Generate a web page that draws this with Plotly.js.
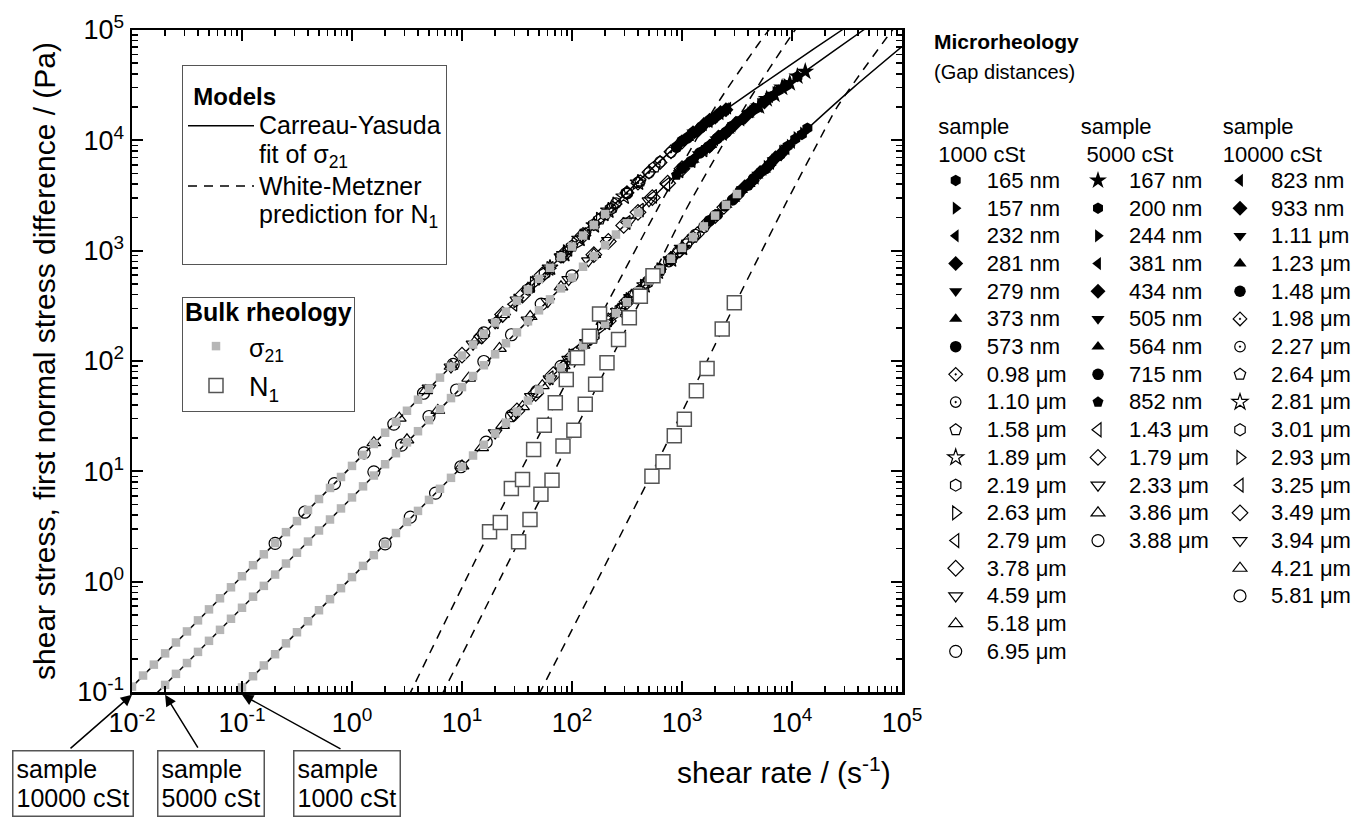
<!DOCTYPE html>
<html><head><meta charset="utf-8">
<script src="https://cdn.plot.ly/plotly-3.0.1.min.js"></script>
<style>html,body{margin:0;padding:0;background:#fff}</style>
</head><body>
<div id="chart" style="width:1368px;height:817px"></div>
<script>
// ---------------- DATA ----------------
// Bulk rheology: shear stress sigma21 (Pa) vs shear rate (1/s)
const rate10000 = [0.0100,0.0126,0.0158,0.0200,0.0251,0.0316,0.0398,0.0501,0.0631,0.0794,
  0.100,0.126,0.158,0.200,0.251,0.316,0.398,0.501,0.631,0.794,
  1.00,1.26,1.58,2.00,2.51,3.16,3.98,5.01,6.31,7.94,
  10.0,12.6,15.8,20.0,25.1,31.6,39.8,50.1,63.1,79.4,
  100,126,158,200];
const sigma10000 = [0.112,0.141,0.177,0.224,0.281,0.354,0.446,0.561,0.707,0.889,
  1.12,1.41,1.77,2.24,2.81,3.54,4.46,5.61,7.07,8.89,
  11.2,14.1,17.7,22.4,28.1,35.4,44.6,56.1,70.7,88.9,
  112,141,177,223,280,352,443,556,699,877,
  1090,1370,1710,2150];
const rate5000 = [0.0200,0.0251,0.0316,0.0398,0.0501,0.0631,0.0794,
  0.100,0.126,0.158,0.200,0.251,0.316,0.398,0.501,0.631,0.794,
  1.00,1.26,1.58,2.00,2.51,3.16,3.98,5.01,6.31,7.94,
  10.0,12.6,15.8,20.0,25.1,31.6,39.8,50.1,63.1,79.4,
  100,126,158,200,251,316,398];
const sigma5000 = [0.116,0.146,0.183,0.231,0.291,0.366,0.461,
  0.580,0.731,0.916,1.16,1.46,1.83,2.31,2.91,3.66,4.61,
  5.80,7.31,9.16,11.6,14.6,18.3,23.1,29.1,36.6,46.1,
  58.0,73.1,91.5,115,145,182,229,288,362,455,
  570,715,895,1120,1400,1770,2210];
const rate1000 = [0.100,0.126,0.158,0.200,0.251,0.316,0.398,0.501,0.631,0.794,
  1.00,1.26,1.58,2.00,2.51,3.16,3.98,5.01,6.31,7.94,
  10.0,12.6,15.8,20.0,25.1,31.6,39.8,50.1,63.1,79.4,
  100,126,158,200,251,316,398,501,631,794,
  1000,1260,1580,2000,2510,3160];
const sigma1000 = [0.110,0.139,0.174,0.220,0.276,0.348,0.438,0.551,0.694,0.873,
  1.10,1.39,1.74,2.20,2.76,3.48,4.38,5.51,6.94,8.73,
  11.0,13.9,17.4,22.0,27.6,34.8,43.8,55.1,69.4,87.3,
  110,138,173,217,272,341,428,537,674,845,
  1060,1330,1660,2080,2600,3260];

// Bulk rheology: first normal stress difference N1 (Pa)
const n1Rate10000 = [17.8,22.3,28.1,35.5,44.8,56.0,70.5,88.7,112,144,178];
const n1Value10000 = [2.83,3.44,7.00,8.44,15.8,26.2,41.8,68.0,107,168,266];
const n1Rate5000 = [32.7,41.5,52.2,65.8,82.8,104,132,164,208,265,332,418,545];
const n1Value5000 = [2.30,3.66,6.21,8.32,17.0,23.6,40.6,61.4,96.4,157,247,387,592];
const n1Rate1000 = [533,671,851,1050,1350,1690,2320,2990];
const n1Value1000 = [9.04,12.2,21.0,29.7,53.7,85.7,195,337];

// Carreau-Yasuda fit of sigma21
const cyRate10000 = [0.008,1,31.6,100,316,1000,2510,8910,28500,100000];
const cyStress10000 = [0.0891,11.2,355,1100,3390,9770,19100,45700,100000,229000];
const cyRate5000 = [0.0158,1,100,316,1000,2000,3980,12600,44700,100000];
const cyStress5000 = [0.0918,5.8,580,1780,5500,9890,17300,40900,100000,174000];
const cyRate1000 = [0.0794,1,100,1000,3160,12600,36300,100000];
const cyStress1000 = [0.0873,1.1,110,1050,3200,11700,30200,70800];

// White-Metzner prediction for N1
const wmRate10000 = [2.82,17.8,224,631,2000,5010,7080];
const wmN1_10000 = [0.0676,2.82,380,2630,20000,75900,120000];
const wmRate5000 = [5.62,31.6,562,1070,3980,10000,12600];
const wmN1_5000 = [0.0692,2.14,631,2290,22400,91200,126000];
const wmRate1000 = [50.1,501,3160,8910,17000,25700,72400,100000];
const wmN1_1000 = [0.0955,8.51,355,2750,9330,20000,85100,129000];

// Microrheology, sample 1000 cSt (gap distances)
const gaps1000 = ['165 nm','157 nm','232 nm','281 nm','279 nm','373 nm','573 nm','0.98 μm','1.10 μm',
  '1.58 μm','1.89 μm','2.19 μm','2.63 μm','2.79 μm','3.78 μm','4.59 μm','5.18 μm','6.95 μm'];
const microRate1000 = [
  [5620,6610,7760,9120,10700,12300,13800],
  [5010,5890,6920,8130,9550,11000,12600],
  [3980,4680,5500,6460,7590,8910,10000],
  [3160,3720,4370,5130,6030,7080,7940],
  [3550,4170,4900,5750,6760,7940,8910],
  [2510,2950,3470,4070,4790,5620,6310],
  [1780,2090,2450,2880,3390,3980,4470],
  [794,955,1150,1380,1660,2000,2400],
  [631,759,912,1100,1320,1580,2000],
  [316,398,501,631,794,1000,1260],
  [200,263,347,457,603,794,1000],
  [158,209,275,363,479,631,794],
  [100,135,182,245,331,447,631],
  [63.1,85.1,115,158,214,288,398],
  [31.6,46.8,67.6,100,148,214,316],
  [20.0,29.5,42.7,63.1,93.3,135,200],
  [10.0,15.1,23.4,35.5,53.7,83.2,126],
  [2.00,3.39,5.75,9.77,16.6,28.2,47.9,79.4]];
const microStress1000 = [
  [5400,6480,7350,8850,10300,11300,12900],
  [4850,5800,6600,7950,9000,10600,11600],
  [4050,4550,5450,6200,7400,8400,9600],
  [3150,3800,4300,5100,5800,6950,7550],
  [3620,4100,4880,5520,6620,7550,8600],
  [2600,2950,3540,4000,4780,5420,6200],
  [1870,2120,2540,2880,3460,3930,4480],
  [850,995,1220,1425,1745,2040,2470],
  [675,795,970,1145,1395,1630,2080],
  [345,424,541,664,845,1042,1325],
  [221,282,378,485,646,831,1058],
  [170,230,295,396,508,675,832],
  [112,146,200,263,361,476,674],
  [70.5,92.5,127.5,170,236,310,432],
  [35.3,51,75.2,109,163,231,345],
  [22.3,32.1,47.6,68.8,103.5,147,220],
  [11.2,16.4,26.1,38.6,59.8,90.7,139],
  [2.2,3.85,6.35,11.0,18.4,31.9,53,89.5]];

// Microrheology, sample 5000 cSt
const gaps5000 = ['167 nm','200 nm','244 nm','381 nm','434 nm','505 nm','564 nm','715 nm','852 nm',
  '1.43 μm','1.79 μm','2.33 μm','3.86 μm','3.88 μm'];
const microRate5000 = [
  [5010,5890,6920,8130,9550,11200,13200],
  [3980,4680,5500,6460,7590,8910,11200],
  [3160,3720,4370,5130,6030,7080,8910],
  [2000,2400,2880,3470,4170,5010,6310],
  [1780,2140,2570,3090,3720,4470,5620],
  [1410,1700,2040,2450,2950,3550,4470],
  [1260,1510,1820,2190,2630,3160,3980],
  [1000,1200,1450,1740,2090,2510,2820],
  [891,1070,1290,1550,1860,2240,2510],
  [316,417,550,724,955,1230,1580],
  [158,214,295,398,537,741,1000],
  [39.8,60.3,93.3,141,214,331,501],
  [3.16,6.03,11.5,21.9,41.7,79.4,158],
  [1.58,2.82,5.01,8.91,15.8,28.2,52.5,100]];
const microStress5000 = [
  [20300,23700,26000,30100,33000,38000,42000],
  [17500,19300,22400,24800,28400,31300,37800],
  [14200,16600,18400,21200,23500,27100,31900],
  [10100,11300,13500,15300,18100,20300,24900],
  [8850,10700,12000,14300,16200,19100,22200],
  [7500,8550,10200,11600,13800,15600,19000],
  [6650,7950,9050,10850,12250,14600,17100],
  [5600,6380,7680,8720,10400,11800,13250],
  [4850,5900,6800,8100,9220,11000,11800],
  [1800,2330,3100,4000,5300,6560,8200],
  [920,1212,1695,2225,3030,4085,5540],
  [235,346,547,808,1237,1855,2830],
  [19.3,35.7,69.8,130,253,470,925],
  [9.9,17.3,31.4,54.6,99,173,328,592]];

// Microrheology, sample 10000 cSt
const gaps10000 = ['823 nm','933 nm','1.11 μm','1.23 μm','1.48 μm','1.98 μm','2.27 μm','2.64 μm',
  '2.81 μm','3.01 μm','2.93 μm','3.25 μm','3.49 μm','3.94 μm','4.21 μm','5.81 μm'];
const microRate10000 = [
  [1580,1780,2000,2240,2510,2630],
  [1410,1580,1780,2000,2240,2510],
  [1260,1410,1580,1780,2000,2290],
  [1120,1260,1410,1660,1910,2240],
  [891,1000,1120,1260,1480,1780],
  [316,398,501,631,794,1000,1260],
  [200,251,316,398,501,631,794],
  [100,132,178,234,316,417,562],
  [63.1,85.1,117,158,214,295,398],
  [39.8,56.2,79.4,112,158,224,316],
  [31.6,44.7,63.1,89.1,126,178,251],
  [20.0,29.5,42.7,63.1,93.3,135,200],
  [10.0,15.1,23.4,35.5,53.7,83.2,126],
  [5.01,7.94,12.6,20.0,31.6,50.1,79.4],
  [1.58,2.69,4.68,7.94,13.5,23.4,39.8],
  [0.200,0.372,0.692,1.29,2.40,4.47,8.32,15.8]];
const microStress10000 = [
  [13900,14800,16600,17500,19300,19600],
  [12400,13900,15200,16200,17900,18900],
  [11800,12500,13600,15100,16300,18200],
  [10500,11750,12750,14200,16000,17600],
  [8650,9800,10500,11700,13000,15100],
  [3350,4090,5150,6290,7880,9650,11680],
  [2120,2700,3290,4160,5070,6380,7780],
  [1100,1420,1930,2480,3350,4280,5730],
  [700,928,1280,1695,2305,3090,4140],
  [446,619,880,1210,1720,2375,3340],
  [351,504,692,982,1358,1925,2655],
  [226,327,482,692,1028,1452,2155],
  [113,168,264,395,604,910,1375],
  [56.8,88.2,142,222,357,552,880],
  [18.2,30.3,53.9,89.6,155,264,457],
  [2.22,4.26,7.75,14.7,26.8,51,93.2,180]];

const xTickVals = [0.01,0.1,1,10,100,1000,10000,100000];
const xTickExp = ['-2','-1','0','1','2','3','4','5'];
const yTickVals = [0.1,1,10,100,1000,10000,100000];
const yTickExp = ['-1','0','1','2','3','4','5'];

// ---------------- STYLE ----------------
const FONT = 'Liberation Sans, Arial, Helvetica, sans-serif';
const sz = (t, s) => '<span style="font-size:' + s + 'px">' + t + '</span>';
const sup = (t, s, shift) => '<span style="font-size:' + s + 'px;baseline-shift:' + shift + 'px">' + t + '</span>';
const sub = (t, s, shift) => '<span style="font-size:' + s + 'px;baseline-shift:-' + shift + 'px">' + t + '</span>';
const NB = '\u00a0';

const sym1000 = ['hexagon','triangle-right','triangle-left','diamond','triangle-down','triangle-up','circle',
  'diamond-open-dot','circle-open-dot','pentagon-open','star-open','hexagon-open','triangle-right-open',
  'triangle-left-open','diamond-open','triangle-down-open','triangle-up-open','circle-open'];
const sym5000 = ['star','hexagon','triangle-right','triangle-left','diamond','triangle-down','triangle-up',
  'circle','pentagon','triangle-left-open','diamond-open','triangle-down-open','triangle-up-open','circle-open'];
const sym10000 = ['triangle-left','diamond','triangle-down','triangle-up','circle','diamond-open-dot',
  'circle-open-dot','pentagon-open','star-open','hexagon-open','triangle-right-open','triangle-left-open',
  'diamond-open','triangle-down-open','triangle-up-open','circle-open'];

function markerFor(symbol) {
  const open = symbol.indexOf('-open') >= 0;
  const dot = symbol.indexOf('-dot') >= 0;
  let size = open ? 12 : 11.5;
  if (dot) size = 10.5;
  if (symbol === 'star') size = 13.5;
  return {symbol: symbol, size: size, color: 'black', line: {color: 'black', width: open ? 1.2 : 0}};
}

const traces = [];
// Carreau-Yasuda curves
[[cyRate10000, cyStress10000], [cyRate5000, cyStress5000], [cyRate1000, cyStress1000]].forEach((d, i) => {
  traces.push({x: d[0], y: d[1], type: 'scatter', mode: 'lines',
    line: {color: 'black', width: 1.5, shape: 'spline', smoothing: 0.6},
    name: sz('Carreau-Yasuda', 25) + '<br>' + sz('fit of σ', 25) + sub('21', 17.5, 5),
    legend: 'legend', showlegend: i === 0, hoverinfo: 'skip'});
});
// White-Metzner predictions
[[wmRate10000, wmN1_10000], [wmRate5000, wmN1_5000], [wmRate1000, wmN1_1000]].forEach((d, i) => {
  traces.push({x: d[0], y: d[1], type: 'scatter', mode: 'lines',
    line: {color: 'black', width: 1.5, dash: '9px,7px', shape: 'spline', smoothing: 0.6},
    name: sz('White-Metzner', 25) + '<br>' + sz('prediction for N', 25) + sub('1', 17.5, 5) + '<br>' + NB,
    legend: 'legend', showlegend: i === 0, hoverinfo: 'skip'});
});
// Microrheology
[[gaps1000, microRate1000, microStress1000, sym1000, 'legend3'],
 [gaps5000, microRate5000, microStress5000, sym5000, 'legend4'],
 [gaps10000, microRate10000, microStress10000, sym10000, 'legend5']].forEach(set => {
  set[0].forEach((lab, k) => {
    traces.push({x: set[1][k], y: set[2][k], type: 'scatter', mode: 'markers',
      marker: markerFor(set[3][k]), name: sz(lab, 22), legend: set[4], hoverinfo: 'skip'});
  });
});
// Bulk sigma21
[[rate10000, sigma10000], [rate5000, sigma5000], [rate1000, sigma1000]].forEach((d, i) => {
  traces.push({x: d[0], y: d[1], type: 'scatter', mode: 'markers',
    marker: {symbol: 'square', size: 8.5, color: '#b6b6b6', line: {width: 0}},
    name: sz('σ', 25) + sub('21', 17.5, 5), legend: 'legend2', showlegend: i === 0, hoverinfo: 'skip'});
});
// Bulk N1
[[n1Rate10000, n1Value10000], [n1Rate5000, n1Value5000], [n1Rate1000, n1Value1000]].forEach((d, i) => {
  traces.push({x: d[0], y: d[1], type: 'scatter', mode: 'markers',
    marker: {symbol: 'square', size: 14, color: 'white', line: {color: '#555', width: 1.5}},
    name: sz('N', 27) + sub('1', 19, 5.5), legend: 'legend2', showlegend: i === 0, hoverinfo: 'skip'});
});

function minorVals(lo, hi) {
  const v = [];
  for (let e = lo; e < hi; e++) for (let m = 2; m <= 9; m++) v.push(m * Math.pow(10, e));
  return v;
}

const L = 132, R = 902, T = 30, B = 692;
const px = x => (x - L) / (R - L);
const py = y => (B - y) / (B - T);

const axisCommon = {
  type: 'log', ticks: 'inside', ticklen: 11, tickwidth: 2, tickcolor: 'black',
  showline: true, linewidth: 2.5, linecolor: 'black', mirror: 'ticks', showgrid: false, zeroline: false,
  tickmode: 'array', tickfont: {family: FONT, size: 27, color: 'black'}
};
const powerLabel = e => '10' + sup(e, 19, 11);

const microLegend = (xPix, title) => ({
  x: px(xPix), y: py(107), xref: 'paper', yref: 'paper', xanchor: 'left', yanchor: 'top',
  bgcolor: 'rgba(0,0,0,0)', borderwidth: 0, itemwidth: 52, tracegroupgap: 0,
  font: {family: FONT, size: 19, color: 'black'},
  title: {text: title, font: {family: FONT, size: 21, color: 'black'}}
});

const layout = {
  width: 1368, height: 817,
  margin: {l: L, r: 1368 - R, t: T, b: 817 - B, autoexpand: false},
  paper_bgcolor: 'white', plot_bgcolor: 'white',
  font: {family: FONT, color: 'black'},
  xaxis: Object.assign({}, axisCommon, {
    range: [-2, 5], tickvals: xTickVals, ticktext: xTickExp.map(powerLabel), ticklabelstandoff: 5,
    minor: {tickmode: 'array', tickvals: minorVals(-2, 5), ticks: 'inside', ticklen: 6, tickwidth: 1.5, tickcolor: 'black'}
  }),
  yaxis: Object.assign({}, axisCommon, {
    range: [-1, 5], tickvals: yTickVals, ticktext: yTickExp.map(powerLabel),
    minor: {tickmode: 'array', tickvals: minorVals(-1, 5), ticks: 'inside', ticklen: 6, tickwidth: 1.5, tickcolor: 'black'},
    title: {text: 'shear stress, first normal stress difference / (Pa)', font: {family: FONT, size: 30, color: 'black'}, standoff: 13}
  }),
  legend: {
    x: px(182), y: py(65), xref: 'paper', yref: 'paper', xanchor: 'left', yanchor: 'top',
    bgcolor: 'white', bordercolor: '#555', borderwidth: 1, itemwidth: 66, valign: 'top', tracegroupgap: 0,
    font: {family: FONT, size: 22, color: 'black'},
    title: {text: NB + '<b>' + sz('Models', 24) + '</b>', font: {family: FONT, size: 30, color: 'black'}}
  },
  legend2: {
    x: px(182), y: py(297), xref: 'paper', yref: 'paper', xanchor: 'left', yanchor: 'top',
    bgcolor: 'white', bordercolor: '#555', borderwidth: 1, itemwidth: 56, tracegroupgap: 0,
    font: {family: FONT, size: 28, color: 'black'},
    title: {text: '<b>' + sz('Bulk rheology', 25) + '</b>', font: {family: FONT, size: 18, color: 'black'}}
  },
  legend3: microLegend(924.7, NB + NB + sz('sample', 22) + '<br>' + NB + NB + sz('1000 cSt', 22)),
  legend4: microLegend(1067, NB + NB + sz('sample', 22) + '<br>' + NB + NB + NB + sz('5000 cSt', 22)),
  legend5: microLegend(1209, NB + NB + sz('sample', 22) + '<br>' + NB + NB + sz('10000 cSt', 22)),
  annotations: [
    {text: '<b>Microrheology</b>', xref: 'paper', yref: 'paper', x: px(932), y: py(42), xanchor: 'left', yanchor: 'middle',
      showarrow: false, font: {family: FONT, size: 21, color: 'black'}},
    {text: '(Gap distances)', xref: 'paper', yref: 'paper', x: px(932), y: py(72), xanchor: 'left', yanchor: 'middle',
      showarrow: false, font: {family: FONT, size: 20, color: 'black'}},
    {text: 'shear rate / (s' + sup('-1', 21, 12) + ')', xref: 'paper', yref: 'paper', x: px(893), y: py(770), xanchor: 'right', yanchor: 'middle',
      showarrow: false, font: {family: FONT, size: 30, color: 'black'}},
    // sample boxes
    {text: sz('sample', 25) + '<br>' + sz('10000 cSt', 25), align: 'left', xref: 'paper', yref: 'paper', x: px(11.7), y: py(750),
      xanchor: 'left', yanchor: 'top', showarrow: false, bordercolor: '#555', borderwidth: 1.5, borderpad: 3, bgcolor: 'white',
      font: {family: FONT, size: 23, color: 'black'}},
    {text: sz('sample', 25) + '<br>' + sz('5000 cSt', 25), align: 'left', xref: 'paper', yref: 'paper', x: px(156.7), y: py(750),
      xanchor: 'left', yanchor: 'top', showarrow: false, bordercolor: '#555', borderwidth: 1.5, borderpad: 3, bgcolor: 'white',
      font: {family: FONT, size: 23, color: 'black'}},
    {text: sz('sample', 25) + '<br>' + sz('1000 cSt', 25), align: 'left', xref: 'paper', yref: 'paper', x: px(292.7), y: py(750),
      xanchor: 'left', yanchor: 'top', showarrow: false, bordercolor: '#555', borderwidth: 1.5, borderpad: 3, bgcolor: 'white',
      font: {family: FONT, size: 23, color: 'black'}},
    // arrows pointing to the first bulk point of each sample
    {text: ' ', xref: 'x', yref: 'paper', x: Math.log10(rate10000[0]), y: -0.004, ax: -63, ay: 55, showarrow: true,
      arrowhead: 2, arrowsize: 1.5, arrowwidth: 1.5, arrowcolor: 'black', standoff: 0, font: {size: 1}},
    {text: ' ', xref: 'x', yref: 'paper', x: Math.log10(rate5000[0]), y: -0.004, ax: 34, ay: 55, showarrow: true,
      arrowhead: 2, arrowsize: 1.5, arrowwidth: 1.5, arrowcolor: 'black', standoff: 0, font: {size: 1}},
    {text: ' ', xref: 'x', yref: 'paper', x: Math.log10(rate1000[0]), y: -0.004, ax: 100, ay: 55, showarrow: true,
      arrowhead: 2, arrowsize: 1.5, arrowwidth: 1.5, arrowcolor: 'black', standoff: 0, font: {size: 1}}
  ]
};

Plotly.newPlot('chart', traces, layout, {staticPlot: true, displayModeBar: false});
</script>
</body></html>
